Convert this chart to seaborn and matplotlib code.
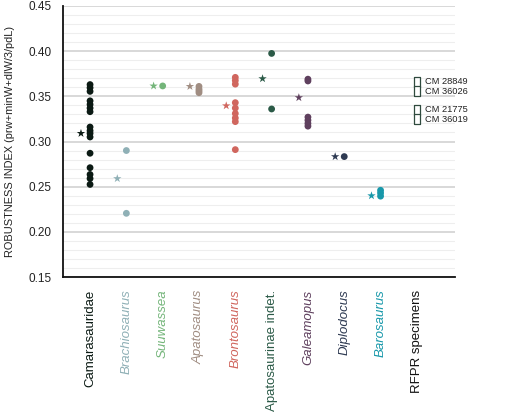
import numpy as np
import pandas as pd
import matplotlib
matplotlib.use("Agg")
import matplotlib.pyplot as plt
from matplotlib.ticker import MultipleLocator
import seaborn as sns

categories = ["Camarasauridae", "Brachiosaurus", "Suuwassea", "Apatosaurus",
              "Brontosaurus", "Apatosaurinae indet.", "Galeamopus", "Diplodocus",
              "Barosaurus", "RFPR specimens"]
italic = [False, True, True, True, True, False, True, True, True, False]
colors = ["#0b1a14", "#8fb0b6", "#74b57a", "#a08d82", "#d0665e", "#2b5a47",
          "#5f405e", "#2e3a52", "#1898aa", "#111111"]

camarasauridae = [0.363, 0.3595, 0.3555, 0.345, 0.341, 0.337, 0.333, 0.316, 0.312,
                  0.309, 0.305, 0.287, 0.271, 0.2635, 0.259, 0.2525]
brachiosaurus = [0.290, 0.2205]
suuwassea = [0.3615]
apatosaurus = [0.361, 0.358, 0.356, 0.354]
brontosaurus = [0.371, 0.3675, 0.3635, 0.343, 0.337, 0.331, 0.326, 0.322, 0.291]
apatosaurinae = [0.3975, 0.336]
galeamopus = [0.369, 0.367, 0.327, 0.3235, 0.320, 0.317]
diplodocus = [0.2833]
barosaurus = [0.246, 0.243, 0.2395]
series = [camarasauridae, brachiosaurus, suuwassea, apatosaurus, brontosaurus,
          apatosaurinae, galeamopus, diplodocus, barosaurus]

star_values = [0.309, 0.259, 0.3615, 0.361, 0.3396, 0.3696, 0.3486, 0.2833, 0.240]

rfpr_labels = ["CM 28849", "CM 36026", "CM 21775", "CM 36019"]
rfpr_values = [0.366, 0.3557, 0.3353, 0.3246]

rows = []
for i, vals in enumerate(series):
    for v in vals:
        rows.append({"cat": categories[i], "pos": i, "val": v})
dots = pd.DataFrame(rows)
stars = pd.DataFrame({"cat": categories[:9], "pos": np.arange(9) - 0.25, "val": star_values})
rfpr = pd.DataFrame({"label": rfpr_labels, "pos": 9, "val": rfpr_values})

sns.set_style("white")
plt.rcParams["font.family"] = ["Liberation Sans", "DejaVu Sans"]

fig = plt.figure(figsize=(5.10, 4.16), dpi=100)
ax = fig.add_axes([63 / 510, 1 - 277 / 416, (455 - 63) / 510, (277 - 6) / 416])

pal = dict(zip(categories, colors))
sns.scatterplot(data=dots, x="pos", y="val", hue="cat", palette=pal, marker="o",
                s=24, linewidth=0, legend=False, ax=ax, zorder=3)
sns.scatterplot(data=stars, x="pos", y="val", hue="cat", palette=pal, marker="*",
                s=40, linewidth=0, legend=False, ax=ax, zorder=3)

box = [(-0.28, -0.5), (0.28, -0.5), (0.28, 0.5), (-0.28, 0.5), (-0.28, -0.5)]
sns.scatterplot(data=rfpr, x="pos", y="val", marker=box, s=52, color="white",
                edgecolor="#2f4a3e", linewidth=0.9, legend=False, ax=ax, zorder=3)
for _, r in rfpr.iterrows():
    ax.text(r["pos"] + 0.22, r["val"], r["label"], fontsize=6.7, va="center",
            ha="left", color="#222222")

ax.set_xlim(-0.745, 10.05)
ax.set_ylim(0.15, 0.45)
ax.yaxis.set_major_locator(MultipleLocator(0.05))
ax.yaxis.set_minor_locator(MultipleLocator(0.01))
ax.yaxis.set_major_formatter(matplotlib.ticker.FormatStrFormatter("%.2f"))
ax.grid(True, which="major", axis="y", color="#d6d6d6", linewidth=1.3, zorder=0)
ax.grid(True, which="minor", axis="y", color="#eeeeee", linewidth=0.8, zorder=0)
ax.grid(False, axis="x")
ax.set_axisbelow(True)

ax.set_xticks(range(len(categories)))
ax.set_xticklabels(categories, rotation=90, va="top", ha="center", fontsize=9.5)
for lab, c, it in zip(ax.get_xticklabels(), colors, italic):
    lab.set_color(c)
    if it:
        lab.set_style("italic")
ax.tick_params(axis="x", length=0, pad=9)
ax.tick_params(axis="y", which="both", length=0, pad=8, labelsize=8.5, labelcolor="#222222")

for s in ["top", "right"]:
    ax.spines[s].set_visible(False)
for s in ["left", "bottom"]:
    ax.spines[s].set_color("#111111")
    ax.spines[s].set_linewidth(1.3)

ax.set_xlabel("")
ax.set_ylabel("ROBUSTNESS INDEX (prw+minW+dlW/3/pdL)", fontsize=7.9, color="#222222",
              labelpad=10)

fig.savefig("out.png", dpi=100)
